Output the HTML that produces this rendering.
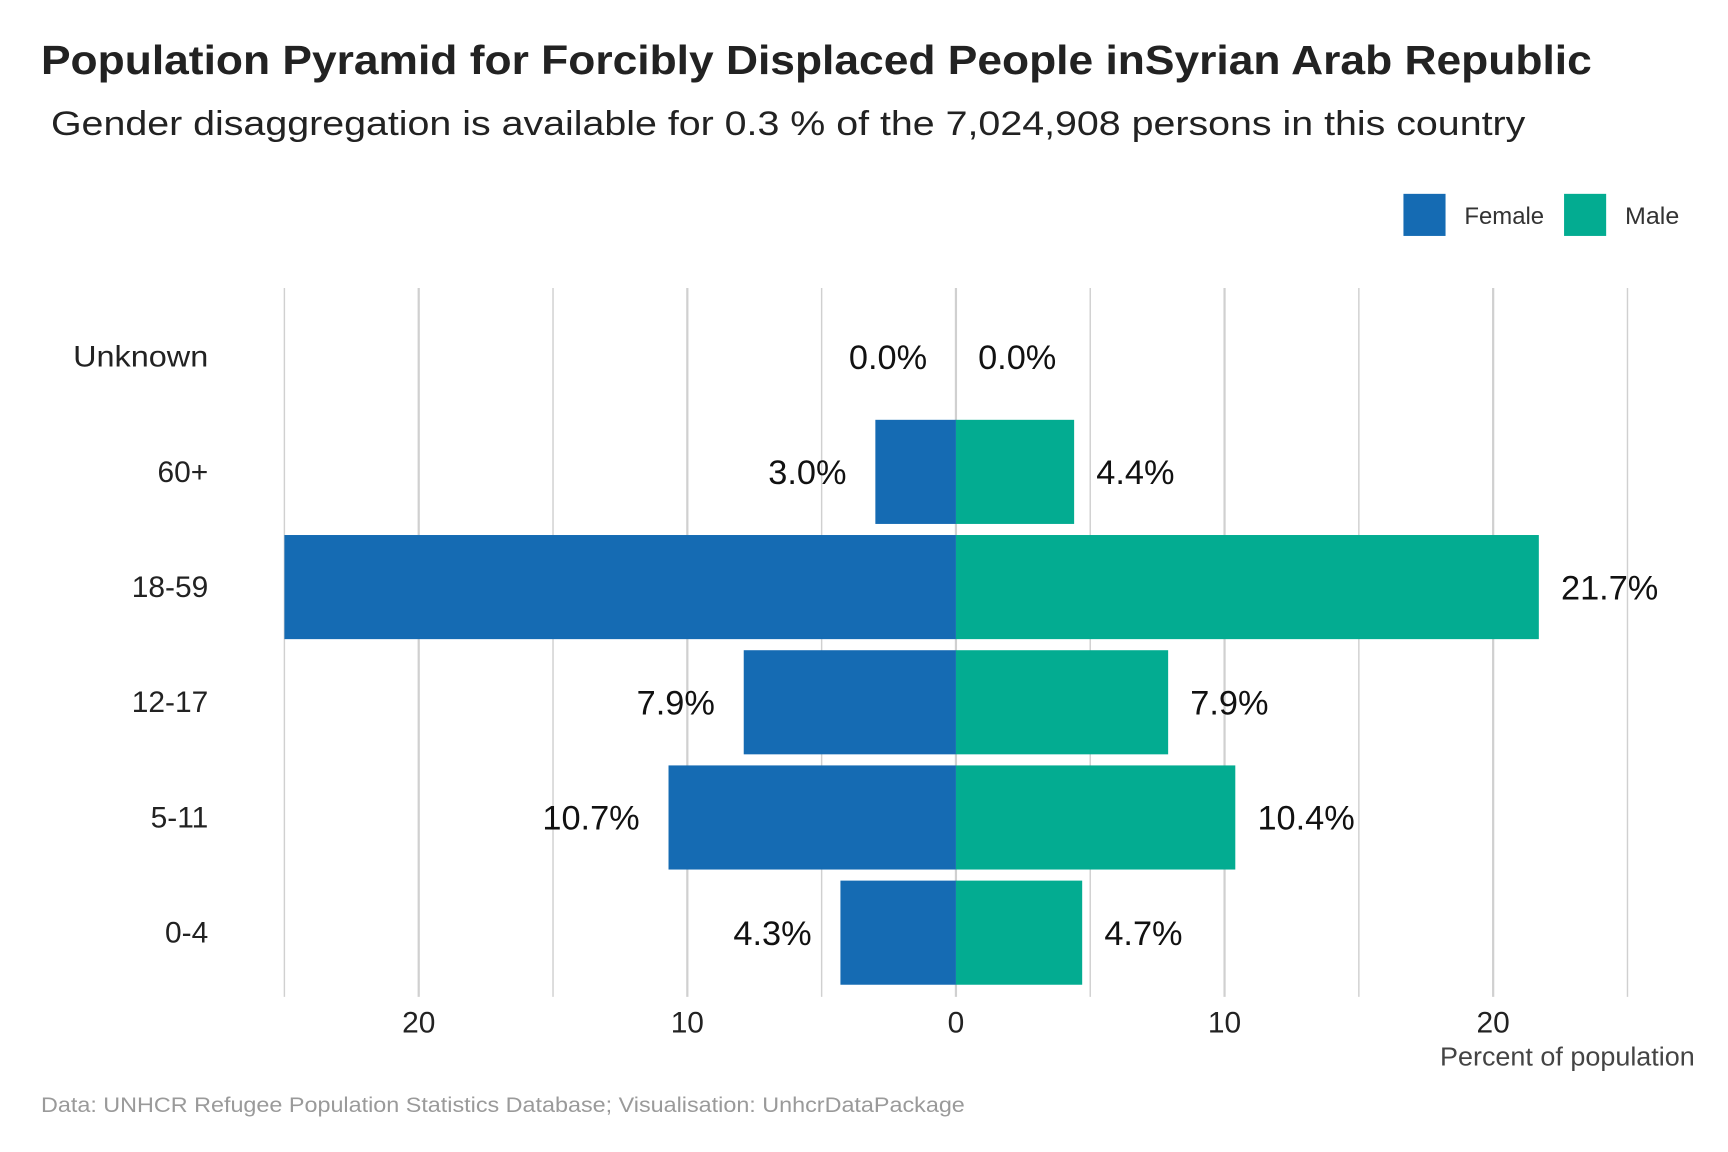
<!DOCTYPE html>
<html><head><meta charset="utf-8"><style>
html,body{margin:0;padding:0;background:#fff}
svg{display:block;font-family:"Liberation Sans",sans-serif}
</style></head><body>
<svg id="chart" width="1728" height="1152" viewBox="0 0 1560 1040">
<text x="37" y="67" font-size="37" font-weight="bold" fill="#222" textLength="1400" lengthAdjust="spacingAndGlyphs">Population Pyramid for Forcibly Displaced People inSyrian Arab Republic</text>
<text x="46" y="122" font-size="31" fill="#222" textLength="1331" lengthAdjust="spacingAndGlyphs">Gender disaggregation is available for 0.3 % of the 7,024,908 persons in this country</text>
<g>
<rect x="1267" y="175" width="38" height="38" fill="#156bb3"/>
<text x="1322" y="202" font-size="22" fill="#333" textLength="72" lengthAdjust="spacingAndGlyphs">Female</text>
<rect x="1412" y="175" width="38" height="38" fill="#03ac91"/>
<text x="1467" y="202" font-size="22" fill="#333" textLength="49" lengthAdjust="spacingAndGlyphs">Male</text>
</g>
<g id="grid"></g><g id="bars"></g><g id="labels"></g><g id="axes"></g>
<text x="1300" y="962" font-size="23" fill="#444" textLength="230" lengthAdjust="spacingAndGlyphs">Percent of population</text>
<text x="37" y="1004" font-size="19" fill="#9a9a9a" textLength="834" lengthAdjust="spacingAndGlyphs">Data: UNHCR Refugee Population Statistics Database; Visualisation: UnhcrDataPackage</text>
</svg>
<script>
const categories = ["Unknown","60+","18-59","12-17","5-11","0-4"];
const femaleValues = [0.0,3.0,25.0,7.9,10.7,4.3];
const maleValues = [0.0,4.4,21.7,7.9,10.4,4.7];
const tickValues = [-20,-10,0,10,20];
const tickLabels = ["20","10","0","10","20"];
const gridValues = [-25,-20,-15,-10,-5,0,5,10,15,20,25];

const NS="http://www.w3.org/2000/svg";
const x0=863, pxPerUnit=24.25, xMin=-25, xMax=25;
const yTop=260, yBot=900, rowStart=322, rowStep=104, barH=94;
const xs=v=>x0+v*pxPerUnit;
const ys=i=>rowStart+i*rowStep;
function mk(tag,attrs,parent){const e=document.createElementNS(NS,tag);for(const k in attrs)e.setAttribute(k,attrs[k]);parent.appendChild(e);return e;}
const grid=document.getElementById('grid'),bars=document.getElementById('bars'),labels=document.getElementById('labels'),axes=document.getElementById('axes');
gridValues.forEach(v=>{
  const l=mk('line',{x1:xs(v),x2:xs(v),y1:yTop,y2:yBot,stroke:'#d0d0d0','stroke-width':(v%10===0)?2:1.3},grid);
  
  
});
tickValues.forEach((v,i)=>{
  const t=mk('text',{x:xs(v),y:932,'font-size':27,fill:'#222','text-anchor':'middle'},axes);
  t.textContent=tickLabels[i];
  
  
});
categories.forEach((c,i)=>{
  const yc=ys(i);
  const t=mk('text',{x:188,y:yc+9,'font-size':27,fill:'#222','text-anchor':'end'},axes);
  t.textContent=c;
  if(c==='Unknown'){t.setAttribute('textLength','122');t.setAttribute('lengthAdjust','spacingAndGlyphs');}
  
  
  const f=femaleValues[i],m=maleValues[i];
  if(f>0){
    const r=mk('rect',{x:xs(-f),y:yc-barH/2,width:xs(0)-xs(-f),height:barH,fill:'#156bb3'},bars);
    
    
  }
  if(m>0){
    const r=mk('rect',{x:xs(0),y:yc-barH/2,width:xs(m)-xs(0),height:barH,fill:'#03ac91'},bars);
    
    
  }
  if(-f-1.2>xMin){
    const lf=mk('text',{x:xs(-f)-26,y:yc+11,'font-size':31,fill:'#111','text-anchor':'end'},labels);
    lf.textContent=f.toFixed(1)+'%';
    
    
  }
  const lm=mk('text',{x:xs(m)+20,y:yc+11,'font-size':31,fill:'#111','text-anchor':'start'},labels);
  lm.textContent=m.toFixed(1)+'%';
  
  
});
</script>
</body></html>
